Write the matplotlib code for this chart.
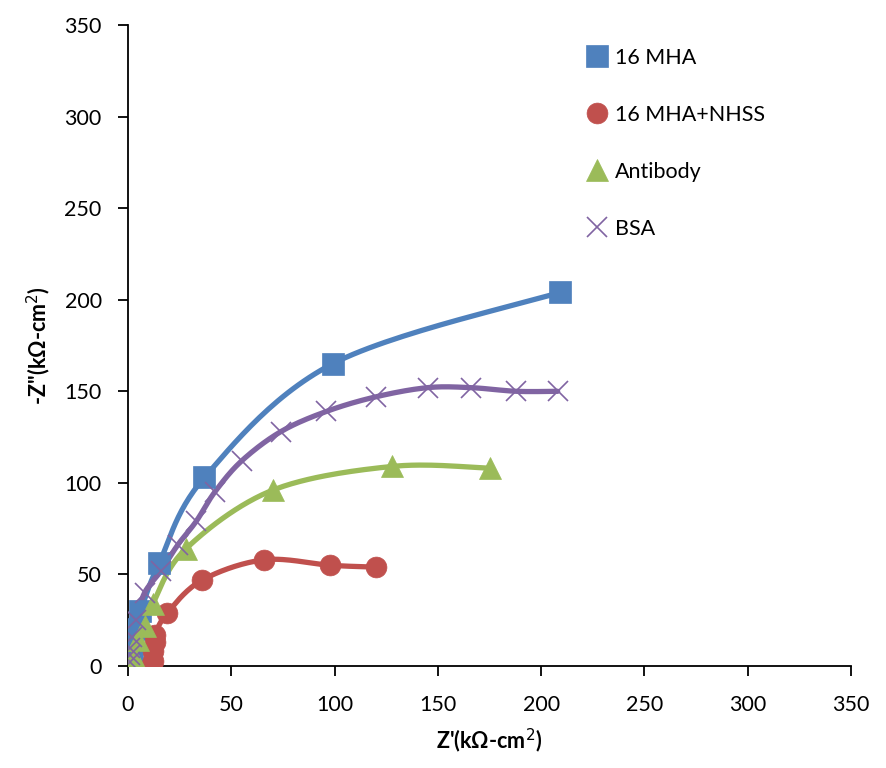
import numpy as np
import matplotlib.pyplot as plt

# impedance data (kOhm-cm2)
mha_x = [1, 2, 3, 6, 15, 37, 99, 209]
mha_y = [1, 8, 20, 30, 56, 103, 165, 204]

nhss_x = [11, 12, 12, 13, 13, 19, 36, 66, 98, 120]
nhss_y = [0, 3, 8, 13, 17, 29, 47, 58, 55, 54]

ab_x = [1, 3, 5, 8, 12, 28, 70, 128, 175]
ab_y = [0, 5, 14, 22, 34, 64, 96, 109, 108]

bsa_x = [1, 1, 1, 2, 4, 8, 16, 24, 33, 42, 55, 74, 96, 120, 145, 166, 188, 208]
bsa_y = [2, 6, 10, 16, 25, 40, 52, 66, 79, 95, 112, 128, 139, 147, 152, 152, 150, 150]


def smooth(x, y, n=30):
    # Excel-like smoothed line: bezier segments with 1/6 tangent control points
    p = np.column_stack([x, y]).astype(float)
    p = np.vstack([p[0], p, p[-1]])
    out = []
    t = np.linspace(0, 1, n)[:, None]
    for i in range(1, len(p) - 2):
        p0, p1, p2, p3 = p[i - 1], p[i], p[i + 1], p[i + 2]
        c1 = p1 + (p2 - p0) / 6
        c2 = p2 - (p3 - p1) / 6
        seg = ((1 - t) ** 3) * p1 + 3 * ((1 - t) ** 2) * t * c1 + 3 * (1 - t) * t ** 2 * c2 + t ** 3 * p2
        out.append(seg)
    out = np.vstack(out)
    return out[:, 0], out[:, 1]


plt.rcParams['font.family'] = ['Lato', 'DejaVu Sans']

fig = plt.figure(figsize=(8.86, 7.68), dpi=100)
ax = fig.add_axes([0.1445, 0.1328, 0.816, 0.8346])

series = [
    (mha_x, mha_y, '#4F81BD', 's', 16, '16 MHA'),
    (nhss_x, nhss_y, '#C0504D', 'o', 15, '16 MHA+NHSS'),
    (ab_x, ab_y, '#9BBB59', '^', 16, 'Antibody'),
    (bsa_x, bsa_y, '#8064A2', 'x', 14, 'BSA'),
]

for x, y, c, m, ms, lab in series:
    sx, sy = smooth(x, y)
    ax.plot(sx, sy, color=c, lw=3.8, solid_capstyle='round', zorder=2)
    ax.plot(x, y, linestyle='none', marker=m, color=c, markersize=ms,
            markeredgewidth=1.2 if m == 'x' else 0.5, label=lab, zorder=3)

ax.set_xlim(0, 350)
ax.set_ylim(0, 350)
ax.set_xticks(np.arange(0, 351, 50))
ax.set_yticks(np.arange(0, 351, 50))
ax.spines['top'].set_visible(False)
ax.spines['right'].set_visible(False)
ax.spines['left'].set_linewidth(1.3)
ax.spines['bottom'].set_linewidth(1.3)
ax.tick_params(direction='out', length=7, width=1.3, labelsize=15.5)
ax.tick_params(axis='x', pad=14)
ax.tick_params(axis='y', pad=12)

ax.set_xlabel("Z'(kΩ-cm$^2$)", fontsize=15.5, fontweight='bold', labelpad=8)
ax.set_ylabel("-Z''(kΩ-cm$^2$)", fontsize=15.5, fontweight='bold', labelpad=8)

ax.legend(loc='upper left', bbox_to_anchor=(0.61, 0.995), frameon=False,
          fontsize=15.5, labelspacing=1.72, handlelength=0.8, handletextpad=0.45,
          markerscale=1.0)

fig.savefig('out.png', dpi=100)
